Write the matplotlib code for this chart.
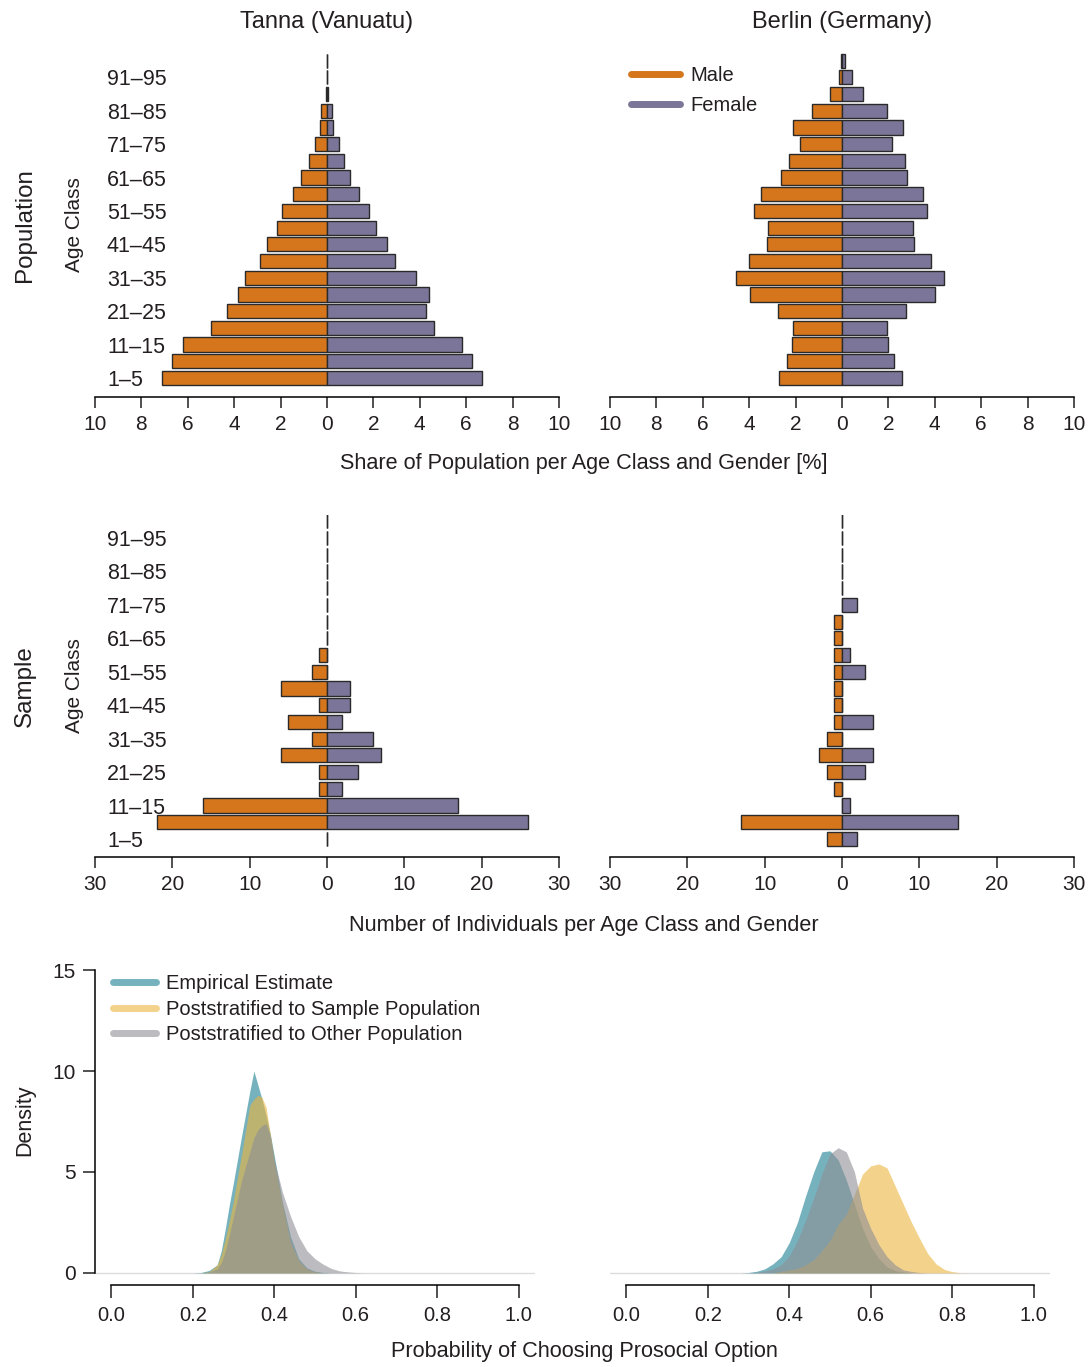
# Age pyramids (population / sample) and posterior densities, Tanna vs Berlin

import numpy as np
import matplotlib
matplotlib.use('Agg')
import matplotlib.pyplot as plt
from matplotlib.lines import Line2D

plt.rcParams['font.family'] = ['Liberation Sans', 'DejaVu Sans']
plt.rcParams['text.color'] = '#231f20'
plt.rcParams['xtick.color'] = '#231f20'
plt.rcParams['ytick.color'] = '#231f20'

# Data

age_classes = ['1–5', '6–10', '11–15', '16–20', '21–25', '26–30', '31–35', '36–40',
               '41–45', '46–50', '51–55', '56–60', '61–65', '66–70', '71–75', '76–80',
               '81–85', '86–90', '91–95', '96–100']

# share of population [%]
tanna_pop_male = [7.1, 6.7, 6.2, 5.0, 4.3, 3.85, 3.55, 2.9, 2.6, 2.15,
                  1.95, 1.45, 1.1, 0.78, 0.5, 0.32, 0.24, 0.05, 0.0, 0.0]
tanna_pop_female = [6.7, 6.25, 5.8, 4.6, 4.25, 4.4, 3.85, 2.95, 2.6, 2.1,
                    1.8, 1.4, 1.0, 0.73, 0.5, 0.27, 0.2, 0.05, 0.0, 0.0]
berlin_pop_male = [2.7, 2.35, 2.15, 2.1, 2.75, 3.95, 4.55, 4.0, 3.25, 3.2,
                   3.8, 3.5, 2.65, 2.3, 1.8, 2.1, 1.3, 0.5, 0.15, 0.04]
berlin_pop_female = [2.6, 2.25, 2.0, 1.95, 2.75, 4.0, 4.4, 3.85, 3.1, 3.05,
                     3.65, 3.5, 2.8, 2.7, 2.15, 2.65, 1.95, 0.9, 0.45, 0.15]

# number of individuals in sample
tanna_n_male = [0, 22, 16, 1, 1, 6, 2, 5, 1, 6, 2, 1, 0, 0, 0, 0, 0, 0, 0, 0]
tanna_n_female = [0, 26, 17, 2, 4, 7, 6, 2, 3, 3, 0, 0, 0, 0, 0, 0, 0, 0, 0, 0]
berlin_n_male = [2, 13, 0, 1, 2, 3, 2, 1, 1, 1, 1, 1, 1, 1, 0, 0, 0, 0, 0, 0]
berlin_n_female = [2, 15, 1, 0, 3, 4, 0, 4, 0, 0, 3, 1, 0, 0, 2, 0, 0, 0, 0, 0]

# posterior densities
tanna_x = [0.20, 0.22, 0.24, 0.26, 0.27, 0.28, 0.29, 0.30, 0.32, 0.34, 0.35, 0.36,
           0.37, 0.38, 0.39, 0.40, 0.42, 0.44, 0.46, 0.48, 0.50, 0.52, 0.54, 0.56,
           0.58, 0.60, 0.62]
tanna_empirical = [0.0, 0.02, 0.12, 0.4, 1.1, 2.2, 3.4, 4.5, 6.8, 9.0, 10.0, 9.3,
                   8.6, 7.8, 6.9, 5.8, 3.5, 1.8, 0.7, 0.25, 0.08, 0.02, 0.0, 0.0,
                   0.0, 0.0, 0.0]
tanna_sample = [0.0, 0.0, 0.05, 0.4, 0.9, 1.7, 2.6, 3.6, 5.9, 8.3, 8.6, 8.8,
                8.7, 8.2, 6.9, 5.5, 3.4, 1.5, 0.6, 0.2, 0.05, 0.0, 0.0, 0.0,
                0.0, 0.0, 0.0]
tanna_other = [0.0, 0.0, 0.05, 0.2, 0.5, 1.1, 1.9, 2.8, 4.6, 6.0, 6.7, 7.1,
               7.3, 7.4, 6.8, 5.6, 4.0, 2.8, 1.8, 1.1, 0.7, 0.43, 0.22, 0.1,
               0.05, 0.02, 0.0]

berlin_x = [0.28, 0.30, 0.32, 0.34, 0.36, 0.38, 0.40, 0.42, 0.44, 0.46, 0.48, 0.50,
            0.52, 0.54, 0.56, 0.58, 0.60, 0.62, 0.64, 0.66, 0.68, 0.70, 0.72, 0.74,
            0.76, 0.78, 0.80, 0.82, 0.84]
berlin_empirical = [0.0, 0.02, 0.08, 0.2, 0.45, 0.8, 1.5, 2.5, 3.8, 5.0, 6.0, 6.05,
                    5.6, 4.6, 3.4, 2.2, 1.3, 0.7, 0.3, 0.12, 0.04, 0.0, 0.0, 0.0,
                    0.0, 0.0, 0.0, 0.0, 0.0]
berlin_sample = [0.0, 0.0, 0.0, 0.0, 0.0, 0.08, 0.15, 0.22, 0.4, 0.65, 1.1, 1.6,
                 2.4, 2.9, 3.9, 4.9, 5.3, 5.4, 5.2, 4.3, 3.4, 2.5, 1.7, 0.95,
                 0.45, 0.18, 0.06, 0.01, 0.0]
berlin_other = [0.0, 0.0, 0.03, 0.1, 0.2, 0.4, 0.85, 1.6, 2.6, 3.7, 4.9, 5.9,
                6.2, 6.0, 5.0, 3.2, 2.2, 1.4, 0.8, 0.4, 0.15, 0.07, 0.02, 0.0,
                0.0, 0.0, 0.0, 0.0, 0.0]

# Styling
male_col = '#d5761d'
female_col = '#7b7699'
edge_col = '#2a2a2a'
teal = '#1b8091'
yellow = '#ebb43f'
grey = '#8e8f96'

W, H = 1090, 1367
fig = plt.figure(figsize=(W / 100, H / 100), dpi=100)


def add_ax(l, t, r, b):
    return fig.add_axes([l / W, 1 - b / H, (r - l) / W, (b - t) / H])


def pyramid(ax, male, female, lim, step, ylim, show_labels):
    rows = np.arange(len(age_classes))
    ax.barh(rows, -np.array(male), height=0.85, color=male_col,
            edgecolor=edge_col, linewidth=1.0)
    ax.barh(rows, female, height=0.85, color=female_col,
            edgecolor=edge_col, linewidth=1.0)
    ax.set_xlim(-lim, lim)
    ax.set_ylim(*ylim)
    ticks = np.arange(-lim, lim + step, step)
    ax.set_xticks(ticks)
    ax.set_xticklabels([str(abs(int(t))) for t in ticks], fontsize=15)
    for s in ['left', 'right', 'top']:
        ax.spines[s].set_visible(False)
    ax.spines['bottom'].set_linewidth(1.1)
    ax.tick_params(axis='x', direction='out', length=8, width=1.1, pad=5)
    if show_labels:
        ax.set_yticks(rows[::2])
        ax.set_yticklabels(age_classes[::2], fontsize=15.5, ha='left')
        ax.tick_params(axis='y', length=0, pad=-8.6)
    else:
        ax.set_yticks([])


ax1 = add_ax(95, 53, 559, 397)
pyramid(ax1, tanna_pop_male, tanna_pop_female, 10, 2, (-1.14, 19.46), True)
ax2 = add_ax(610, 53, 1074, 397)
pyramid(ax2, berlin_pop_male, berlin_pop_female, 10, 2, (-1.14, 19.46), False)
ax3 = add_ax(95, 515, 559, 857)
pyramid(ax3, tanna_n_male, tanna_n_female, 30, 10, (-1.08, 19.38), True)
ax4 = add_ax(610, 515, 1074, 857)
pyramid(ax4, berlin_n_male, berlin_n_female, 30, 10, (-1.08, 19.38), False)

handles = [Line2D([], [], color=male_col, lw=5, solid_capstyle='round'),
           Line2D([], [], color=female_col, lw=5, solid_capstyle='round')]
ax2.legend(handles, ['Male', 'Female'], loc='upper left', bbox_to_anchor=(0.045, 0.962),
           frameon=False, fontsize=14.5, handlelength=2.45, handletextpad=0.5,
           labelspacing=0.54, borderpad=0, borderaxespad=0)


def density(ax, x, empirical, sample, other, show_y):
    ax.axhline(0, color='#dcdcdc', lw=1.0, zorder=0)
    ax.fill_between(x, 0, empirical, color=teal, alpha=0.6, lw=0)
    ax.fill_between(x, 0, sample, color=yellow, alpha=0.6, lw=0)
    ax.fill_between(x, 0, other, color=grey, alpha=0.6, lw=0)
    ax.set_xlim(-0.04, 1.04)
    ax.set_ylim(-0.6, 15.6)
    ax.set_xticks([0.0, 0.2, 0.4, 0.6, 0.8, 1.0])
    ax.set_xticklabels(['0.0', '0.2', '0.4', '0.6', '0.8', '1.0'], fontsize=14.5)
    ax.spines['bottom'].set_bounds(0, 1)
    ax.spines['bottom'].set_linewidth(1.1)
    ax.spines['top'].set_visible(False)
    ax.spines['right'].set_visible(False)
    ax.tick_params(axis='x', direction='out', length=9, width=1.1, pad=6)
    if show_y:
        ax.spines['left'].set_bounds(0, 15)
        ax.spines['left'].set_linewidth(1.1)
        ax.set_yticks([0, 5, 10, 15])
        ax.set_yticklabels(['0', '5', '10', '15'], fontsize=15)
        ax.tick_params(axis='y', direction='out', length=9, width=1.1, pad=5)
    else:
        ax.spines['left'].set_visible(False)
        ax.set_yticks([])


ax5 = add_ax(95, 958, 535, 1285)
density(ax5, tanna_x, tanna_empirical, tanna_sample, tanna_other, True)
ax6 = add_ax(610, 958, 1050, 1285)
density(ax6, berlin_x, berlin_empirical, berlin_sample, berlin_other, False)

dens_handles = [Line2D([], [], color=c, alpha=0.6, lw=5, solid_capstyle='round')
                for c in [teal, yellow, grey]]
ax5.legend(dens_handles, ['Empirical Estimate', 'Poststratified to Sample Population',
                          'Poststratified to Other Population'],
           loc='upper left', bbox_to_anchor=(0.04, 0.95), frameon=False,
           fontsize=14.5, handlelength=2.15, handletextpad=0.5, labelspacing=0.32,
           borderpad=0, borderaxespad=0)

# Titles and axis labels


def ftext(px, py, s, **kw):
    fig.text(px / W, 1 - py / H, s, ha='center', va='center', **kw)


ftext(327, 22, 'Tanna (Vanuatu)', fontsize=17)
ftext(842, 22, 'Berlin (Germany)', fontsize=17)
ftext(584, 463, 'Share of Population per Age Class and Gender [%]', fontsize=15.6)
ftext(584, 925, 'Number of Individuals per Age Class and Gender', fontsize=15.6)
ftext(584, 1352, 'Probability of Choosing Prosocial Option', fontsize=15.6)
ftext(25, 225, 'Population', fontsize=17.4, rotation=90)
ftext(75, 225, 'Age Class', fontsize=15, rotation=90)
ftext(25, 686, 'Sample', fontsize=17.4, rotation=90)
ftext(75, 686, 'Age Class', fontsize=15, rotation=90)
ftext(25, 1120, 'Density', fontsize=15.5, rotation=90)

plt.savefig('out.png', dpi=100)
